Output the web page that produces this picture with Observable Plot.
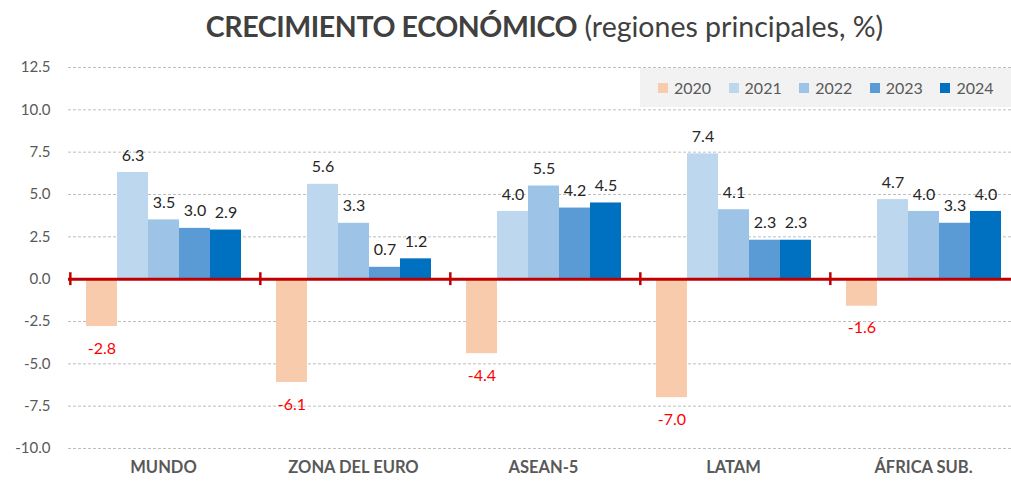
<!DOCTYPE html>
<html><head><meta charset="utf-8">
<script src="https://cdn.jsdelivr.net/npm/d3@7"></script>
<script src="https://cdn.jsdelivr.net/npm/@observablehq/plot@0.6"></script>
<style>
body{margin:0;background:#fff;}
#wrap{position:relative;width:1011px;height:482px;overflow:hidden;font-family:Lato,"Open Sans",sans-serif;}
#title{height:55px;box-sizing:border-box;padding-top:9px;padding-left:78px;text-align:center;font-size:28.5px;color:#404040;white-space:nowrap;}
#title b{font-weight:700;letter-spacing:-0.4px;}
#legend{position:absolute;left:640px;top:68px;width:371px;height:39px;background:#F2F2F2;display:flex;align-items:center;padding-left:18px;box-sizing:border-box;font-size:16px;color:#595959;}
#legend .it{display:flex;align-items:center;width:73px;}
#legend .sw{width:10px;height:10px;margin-right:6px;}
</style></head>
<body>
<div id="wrap">
<div id="title"><b>CRECIMIENTO ECONÓMICO</b> (regiones principales, %)</div>
<div id="chart"></div>
<div id="legend"></div>
</div>
<script>
const regions = ["MUNDO", "ZONA DEL EURO", "ASEAN-5", "LATAM", "ÁFRICA SUB."];
const years = ["2020", "2021", "2022", "2023", "2024"];
const v2020 = [-2.8, -6.1, -4.4, -7.0, -1.6];
const v2021 = [6.3, 5.6, 4.0, 7.4, 4.7];
const v2022 = [3.5, 3.3, 5.5, 4.1, 4.0];
const v2023 = [3.0, 0.7, 4.2, 2.3, 3.3];
const v2024 = [2.9, 1.2, 4.5, 2.3, 4.0];
const colors = ["#F8CBAD", "#BDD7EE", "#9DC3E6", "#5B9BD5", "#0070C0"];
const yTicks = [-10, -7.5, -5, -2.5, 0, 2.5, 5, 7.5, 10, 12.5];

const series = [v2020, v2021, v2022, v2023, v2024];
const rows = regions.flatMap((r, i) => years.map((y, j) => ({region: r, year: y, value: series[j][i]})));

const plot = Plot.plot({
  width: 1011,
  height: 427,
  marginLeft: 68,
  marginRight: -7,
  marginTop: 12,
  marginBottom: 34,
  style: {fontFamily: "Lato, 'Open Sans', sans-serif", background: "transparent", overflow: "visible"},
  fx: {domain: regions, padding: 0, axis: null},
  x: {domain: years, paddingInner: 0, paddingOuter: 0.5, axis: null},
  y: {domain: [-10, 12.5], axis: null},
  color: {domain: years, range: colors},
  marks: [
    Plot.ruleY(yTicks.filter(d => d !== 0), {stroke: "#BFBFBF", strokeDasharray: "3,2", strokeWidth: 1}),
    Plot.axisY({ticks: yTicks, tickFormat: d => d.toFixed(1), tickSize: 0, tickPadding: 18, fontSize: 15, fill: "#595959", label: null}),
    Plot.axisFx({anchor: "bottom", tickSize: 0, tickPadding: 13, fontSize: 16.5, fontWeight: "bold", fill: "#595959", label: null}),
    Plot.barY(rows, {fx: "region", x: "year", y: "value", fill: "year"}),
    Plot.ruleY([0], {stroke: "#C00000", strokeWidth: 3}),
    Plot.ruleX(regions, {fx: d => d, x: () => "2020", dx: -31.67, y1: -0.38, y2: 0.38, stroke: "#C00000", strokeWidth: 2.5}),
    Plot.text(rows.filter(d => d.value >= 0), {fx: "region", x: "year", y: "value", text: d => d.value.toFixed(1), dy: -17, fill: "#262626", fontSize: 16}),
    Plot.text(rows.filter(d => d.value < 0), {fx: "region", x: "year", y: "value", text: d => d.value.toFixed(1), dy: 22, fill: "#FF0000", fontSize: 16})
  ]
});
document.getElementById("chart").appendChild(plot);

const legend = document.getElementById("legend");
years.forEach((y, i) => {
  const it = document.createElement("div");
  it.className = "it";
  const sw = document.createElement("span");
  sw.className = "sw";
  sw.style.background = colors[i];
  const t = document.createElement("span");
  t.textContent = y;
  it.appendChild(sw); it.appendChild(t);
  legend.appendChild(it);
});
</script>
</body></html>
